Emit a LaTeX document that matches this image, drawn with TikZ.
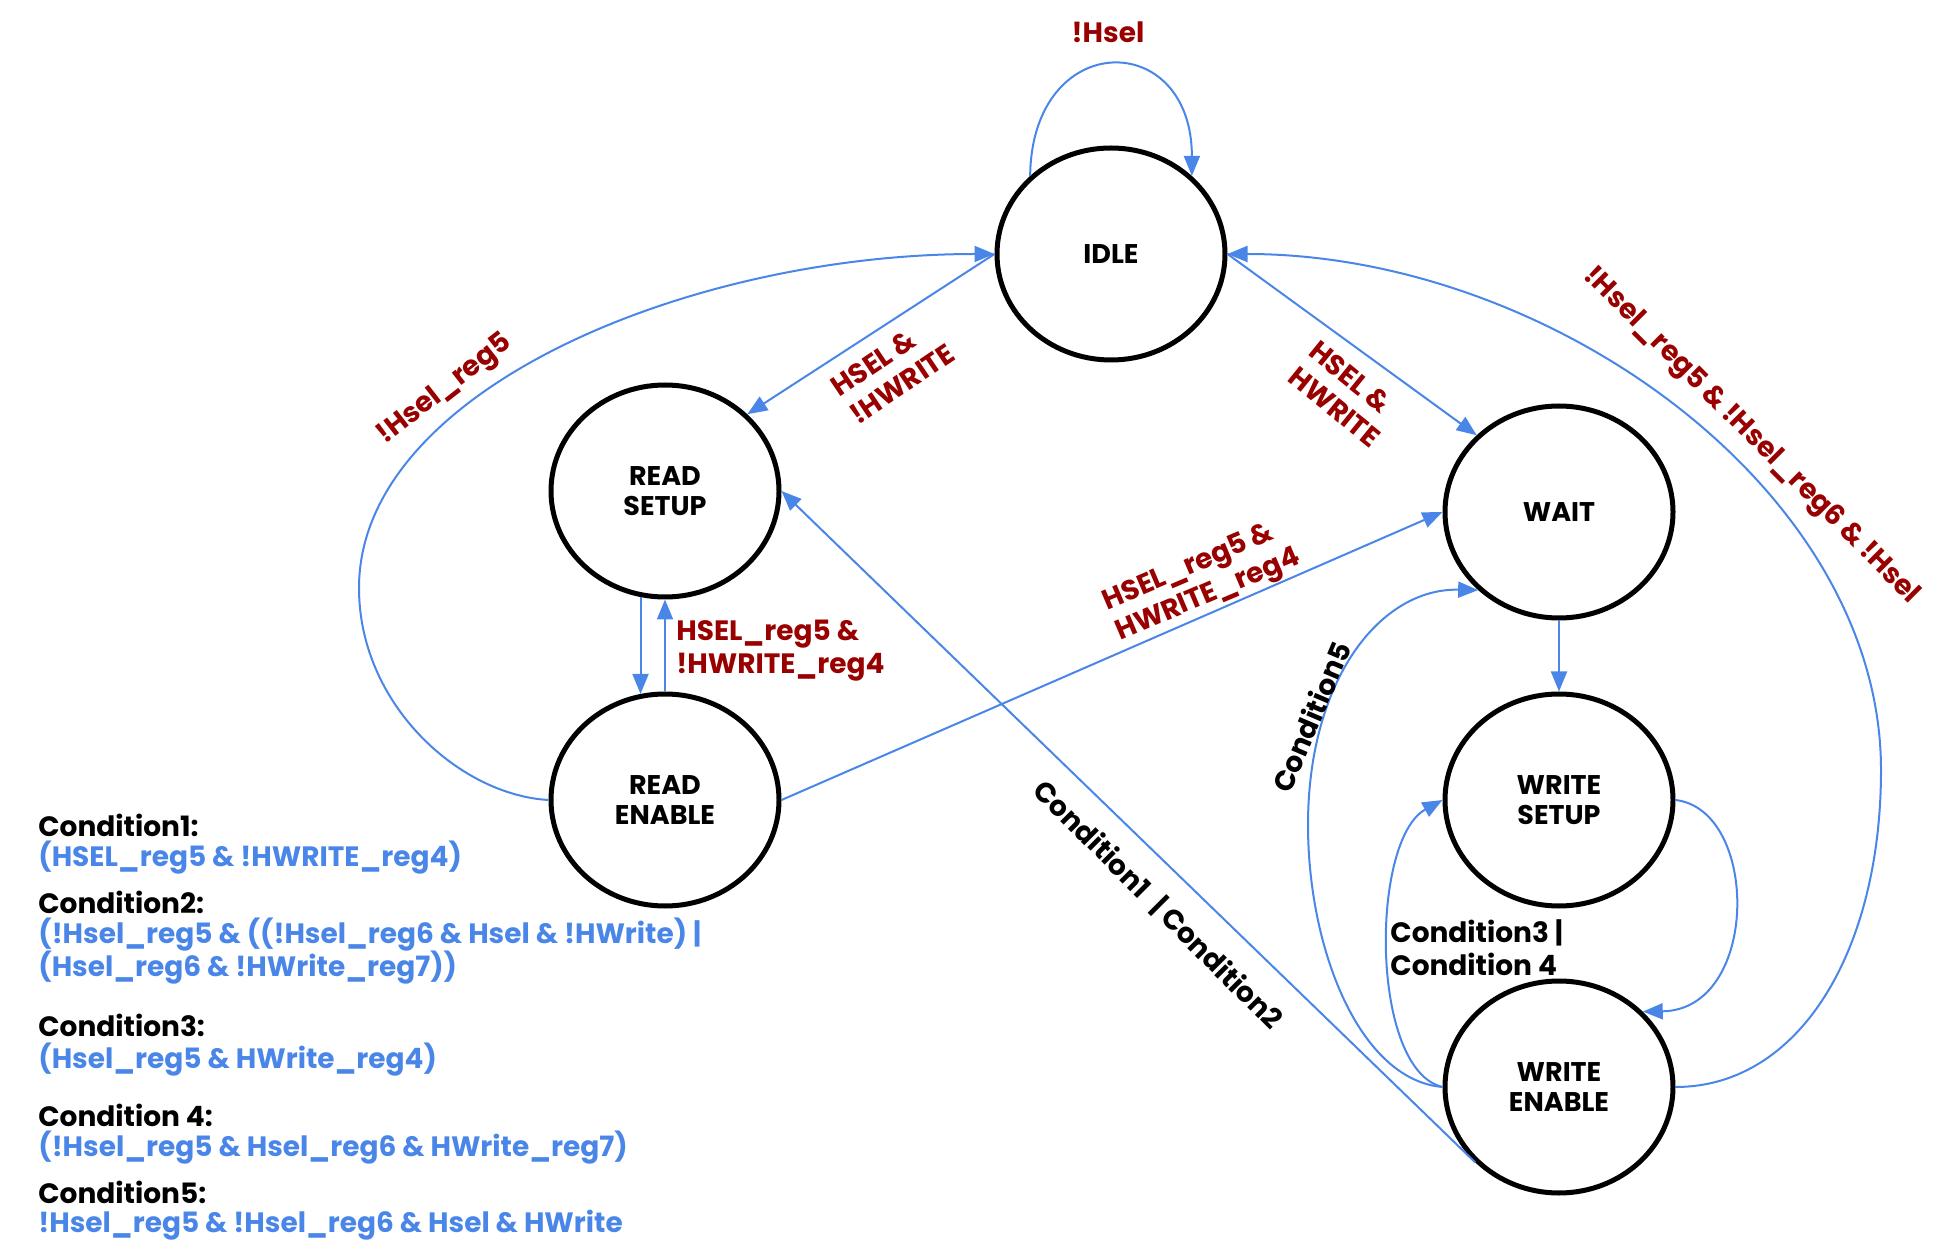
\documentclass[tikz,border=0pt]{standalone}
\usepackage{fontspec}
\setmainfont{Poppins}
\usetikzlibrary{arrows.meta,shapes.geometric}
\definecolor{edgeblue}{HTML}{4A86E8}
\definecolor{labelred}{HTML}{990000}

\begin{document}
\begin{tikzpicture}[x=0.5pt,y=-0.5pt,
  state/.style={ellipse, draw=black, line width=2.5pt, minimum width=114pt,
    minimum height=106pt, inner sep=0pt, align=center,
    font=\fontsize{13.5}{15}\selectfont\bfseries},
  trans/.style={draw=edgeblue, line width=1pt, -{Triangle[length=10pt,width=8pt]}},
  redlbl/.style={font=\fontsize{14}{16.5}\selectfont\bfseries, text=labelred,
    align=left, inner sep=0pt},
  blklbl/.style={font=\fontsize{14}{16.5}\selectfont\bfseries, text=black,
    align=left, inner sep=0pt},
  keyhead/.style={font=\fontsize{14}{16.5}\selectfont\bfseries, text=black,
    anchor=west, inner sep=0pt},
  keybody/.style={font=\fontsize{14}{16.5}\selectfont\bfseries, text=edgeblue,
    anchor=west, inner sep=0pt}]
\useasboundingbox (0,0) rectangle (1960,1245);

% states
\node[state] (idle) at (1111,254) {IDLE};
\node[state] (rs)   at (665,491)  {READ\\SETUP};
\node[state] (re)   at (665,800)  {READ\\ENABLE};
\node[state] (wait) at (1559,512) {WAIT};
\node[state] (ws)   at (1559,800) {WRITE\\SETUP};
\node[state] (we)   at (1559,1087) {WRITE\\ENABLE};

% transitions
\draw[trans] (idle.136) .. controls (1032,28) and (1192,28) .. (idle.44);
\draw[trans] (idle.west) -- (rs.43);
\draw[trans] (re.west) .. controls (460,795) and (359,705) .. (359,588)
             .. controls (359,390) and (690,254) .. (idle.west);
\draw[trans] (rs.257) -- (re.103);
\draw[trans] (re.north) -- (rs.south);
\draw[trans] (re.east) -- (wait.west);
\draw[trans] (we.222) -- (rs.east);
\draw[trans] (idle.east) -- (wait.137);
\draw[trans] (we.east) .. controls (1800,1087) and (1881,950) .. (1881,770)
             .. controls (1881,490) and (1550,254) .. (idle.east);
\draw[trans] (wait.south) -- (ws.north);
\draw[trans] (we.west) .. controls (1360,1080) and (1308,950) .. (1308,825)
             .. controls (1308,680) and (1380,588) .. (wait.224);
\draw[trans] (we.west) .. controls (1370,1070) and (1370,840) .. (ws.west);
\draw[trans] (ws.east) .. controls (1760,810) and (1760,1010) .. (we.42);

% transition labels
\node[redlbl] (lidle) at (1108,32) {!Hsel};
\node[redlbl, rotate=38] (lret) at (445,390) {!Hsel\_reg5};
\node[redlbl, rotate=34] (lrd) at (893,370) {HSEL \&\\!HWRITE};
\node[redlbl, rotate=-39] (lwr) at (1345,394) {HSEL \&\\HWRITE};
\node[redlbl, rotate=23] (lrw) at (1202,581) {HSEL\_reg5 \&\\HWRITE\_reg4};
\node[redlbl, rotate=-45] (lwi) at (1751,436) {!Hsel\_reg5 \& !Hsel\_reg6 \& !Hsel};
\node[redlbl, anchor=west] (lrr) at (676,651) {HSEL\_reg5 \&\\!HWRITE\_reg4};
\node[blklbl, rotate=-45] (lc12) at (1158,905) {Condition1\enspace| Condition2};
\node[blklbl, rotate=67] (lc5) at (1311,717) {Condition5};
\node[blklbl, anchor=west] (lc34) at (1390,948) {Condition3 |\\Condition 4};

% legend
\node[keyhead] (k1h) at (38,825) {Condition1:};
\node[keybody] (k1b) at (38,858) {(HSEL\_reg5 \& !HWRITE\_reg4)};
\node[keyhead] (k2h) at (38,902) {Condition2:};
\node[keybody] (k2b) at (38,935) {(!Hsel\_reg5 \& ((!Hsel\_reg6 \& Hsel \& !HWrite) |};
\node[keybody] (k2c) at (38,968) {(Hsel\_reg6 \& !HWrite\_reg7))};
\node[keyhead] (k3h) at (38,1025) {Condition3:};
\node[keybody] (k3b) at (38,1060) {(Hsel\_reg5 \& HWrite\_reg4)};
\node[keyhead] (k4h) at (38,1115) {Condition 4:};
\node[keybody] (k4b) at (38,1148) {(!Hsel\_reg5 \& Hsel\_reg6 \& HWrite\_reg7)};
\node[keyhead] (k5h) at (38,1192) {Condition5:};
\node[keybody] (k5b) at (38,1225) {!Hsel\_reg5 \& !Hsel\_reg6 \& Hsel \& HWrite};
\end{tikzpicture}
\end{document}
